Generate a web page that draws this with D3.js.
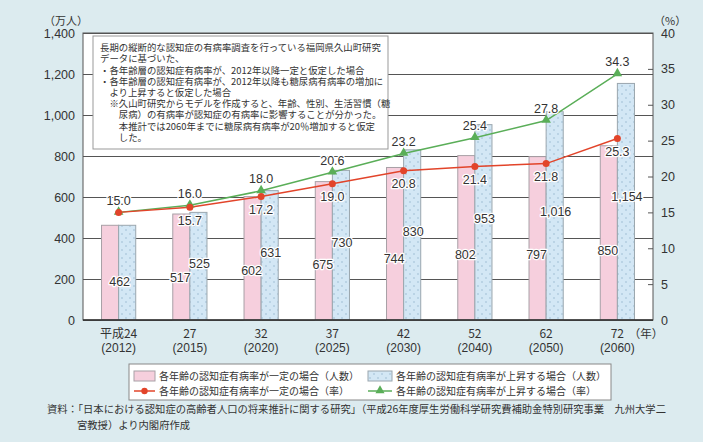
<!DOCTYPE html>
<html>
<head>
<meta charset="utf-8">
<script src="https://cdn.jsdelivr.net/npm/d3@7"></script>
<style>
  body { margin: 0; background: #dcebef; }
  svg { display: block; }
  text { font-family: "Liberation Sans", Arial, sans-serif; fill: #333; }
  .jp { font-family: "Noto Sans CJK JP", sans-serif; }
</style>
</head>
<body>
<script>
// data
var years = ["2012", "2015", "2020", "2025", "2030", "2040", "2050", "2060"];
var eraLabels = ["平成24", "27", "32", "37", "42", "52", "62", "72"];
var yearLabels = ["(2012)", "(2015)", "(2020)", "(2025)", "(2030)", "(2040)", "(2050)", "(2060)"];
var constantPeople = [462, 517, 602, 675, 744, 802, 797, 850];
var risingPeople = [462, 525, 631, 730, 830, 953, 1016, 1154];
var constantRate = [15.0, 15.7, 17.2, 19.0, 20.8, 21.4, 21.8, 25.3];
var risingRate = [15.0, 16.0, 18.0, 20.6, 23.2, 25.4, 27.8, 34.3];
var peopleTicks = [0, 200, 400, 600, 800, 1000, 1200, 1400];
var rateTicks = [0, 5, 10, 15, 20, 25, 30, 35, 40];

var legendItems = [
  "各年齢の認知症有病率が一定の場合（人数）",
  "各年齢の認知症有病率が上昇する場合（人数）",
  "各年齢の認知症有病率が一定の場合（率）",
  "各年齢の認知症有病率が上昇する場合（率）"
];
var noteLines = [
  "長期の縦断的な認知症の有病率調査を行っている福岡県久山町研究",
  "データに基づいた、",
  "・各年齢層の認知症有病率が、2012年以降一定と仮定した場合",
  "・各年齢層の認知症有病率が、2012年以降も糖尿病有病率の増加に",
  "　より上昇すると仮定した場合",
  "　※久山町研究からモデルを作成すると、年齢、性別、生活習慣（糖",
  "　　尿病）の有病率が認知症の有病率に影響することが分かった。",
  "　　本推計では2060年までに糖尿病有病率が20％増加すると仮定",
  "　　した。"
];
var sourceLines = [
  "資料：「日本における認知症の高齢者人口の将来推計に関する研究」（平成26年度厚生労働科学研究費補助金特別研究事業　九州大学二",
  "宮教授）より内閣府作成"
];

var W = 703, H = 442;
var pL = 83, pR = 653, pT = 33, pB = 320;

var pink = "#f6cfdd", blue = "#d3e7f5", red = "#e2442a", green = "#5aae58";

var svg = d3.select("body").append("svg").attr("width", W).attr("height", H);

var defs = svg.append("defs");
var pat = defs.append("pattern").attr("id", "dots").attr("patternUnits", "userSpaceOnUse")
  .attr("width", 8).attr("height", 8);
pat.append("rect").attr("width", 8).attr("height", 8).attr("fill", blue);
pat.append("circle").attr("cx", 2).attr("cy", 2).attr("r", 0.7).attr("fill", "#8fb1c9");
pat.append("circle").attr("cx", 6).attr("cy", 6).attr("r", 0.7).attr("fill", "#8fb1c9");

var x = d3.scaleBand().domain(years).range([pL, pR]);
var yL = d3.scaleLinear().domain([0, 1400]).range([pB, pT]);
var yR = d3.scaleLinear().domain([0, 40]).range([pB, pT]);
var bw = x.bandwidth() * 0.24;
function cx(i) { return x(years[i]) + x.bandwidth() / 2; }

svg.append("rect").attr("x", pL).attr("y", pT).attr("width", pR - pL).attr("height", pB - pT)
  .attr("fill", "#fff");

// left axis with grid
var gL = svg.append("g").attr("transform", "translate(" + pL + ",0)")
  .call(d3.axisLeft(yL).tickValues(peopleTicks).tickSize(-(pR - pL)).tickPadding(8).tickFormat(d3.format(",")));
gL.select(".domain").remove();
gL.selectAll("line").attr("stroke", "#555");
gL.selectAll("text").attr("font-size", 12.5).attr("fill", "#333");

// right axis
var gR = svg.append("g").attr("transform", "translate(" + pR + ",0)")
  .call(d3.axisRight(yR).tickValues(rateTicks).tickSize(-5).tickPadding(8));
gR.select(".domain").remove();
gR.selectAll("line").attr("stroke", "#555");
gR.selectAll("text").attr("font-size", 12.5).attr("fill", "#333");

svg.append("text").attr("class", "jp").attr("x", 44).attr("y", 21).attr("dy", "0.35em")
  .attr("font-size", 11).text("（万人）");
svg.append("text").attr("class", "jp").attr("x", 654).attr("y", 21).attr("dy", "0.35em")
  .attr("font-size", 11).text("（%）");

// bars
var idx = d3.range(years.length);
svg.selectAll(".pbar").data(idx).enter().append("rect")
  .attr("x", function (i) { return cx(i) - bw; })
  .attr("y", function (i) { return yL(constantPeople[i]); })
  .attr("width", bw)
  .attr("height", function (i) { return pB - yL(constantPeople[i]); })
  .attr("fill", pink).attr("stroke", "#a8a0a6").attr("stroke-width", 1);
svg.selectAll(".bbar").data(idx).enter().append("rect")
  .attr("x", function (i) { return cx(i); })
  .attr("y", function (i) { return yL(risingPeople[i]); })
  .attr("width", bw)
  .attr("height", function (i) { return pB - yL(risingPeople[i]); })
  .attr("fill", "url(#dots)").attr("stroke", "#9aa6ae").attr("stroke-width", 1);

// lines
var lineC = d3.line().x(function (d, i) { return cx(i); }).y(function (d) { return yR(d); });
svg.append("path").attr("d", lineC(risingRate)).attr("fill", "none").attr("stroke", green).attr("stroke-width", 1.5);
svg.append("path").attr("d", lineC(constantRate)).attr("fill", "none").attr("stroke", red).attr("stroke-width", 1.5);
svg.selectAll(".tri").data(idx).enter().append("path")
  .attr("d", d3.symbol().type(d3.symbolTriangle).size(40))
  .attr("transform", function (i) { return "translate(" + cx(i) + "," + (yR(risingRate[i]) - 0.5) + ")"; })
  .attr("fill", green);
svg.selectAll(".dot").data(idx).enter().append("circle")
  .attr("cx", function (i) { return cx(i); })
  .attr("cy", function (i) { return yR(constantRate[i]); })
  .attr("r", 3.5).attr("fill", red);

// value labels
function label(xp, yp, t) {
  svg.append("text").attr("x", xp).attr("y", yp).attr("dy", "0.35em").attr("text-anchor", "middle")
    .attr("font-size", 12.5).attr("stroke", "#fff").attr("stroke-width", 2.5).attr("stroke-linejoin", "round")
    .attr("paint-order", "stroke").text(t);
}
var fmtN = d3.format(","), fmtR = d3.format(".1f");
idx.forEach(function (i) {
  if (constantPeople[i] === risingPeople[i]) {
    label(cx(i) + 1, yL(constantPeople[i] * 0.4), fmtN(constantPeople[i]));
  } else {
    label(cx(i) - bw / 2 - 1, yL(constantPeople[i] * 0.4), fmtN(constantPeople[i]));
    label(cx(i) + bw / 2 + 1, yL(risingPeople[i] * 0.52), fmtN(risingPeople[i]));
  }
  label(cx(i), yR(risingRate[i]) - 12, fmtR(risingRate[i]));
  if (constantRate[i] !== risingRate[i]) label(cx(i), yR(constantRate[i]) + 13, fmtR(constantRate[i]));
});

// annotation box
var note = svg.append("g");
note.append("rect").attr("x", 93).attr("y", 36).attr("width", 295).attr("height", 113)
  .attr("fill", "#fff").attr("stroke", "#999").attr("stroke-width", 1);
note.selectAll("text").data(noteLines).enter().append("text").attr("class", "jp")
  .attr("x", 100).attr("y", function (d, i) { return 48 + i * 11.2; }).attr("dy", "0.35em")
  .attr("font-size", 9.4).attr("fill", "#222").text(function (d) { return d; });

// plot frame
svg.append("rect").attr("x", pL).attr("y", pT).attr("width", pR - pL).attr("height", pB - pT)
  .attr("fill", "none").attr("stroke", "#555").attr("stroke-width", 1);
svg.append("line").attr("x1", pL).attr("x2", pR).attr("y1", pB).attr("y2", pB)
  .attr("stroke", "#333").attr("stroke-width", 1.6);

// x labels
idx.forEach(function (i) {
  svg.append("text").attr("class", "jp").attr("x", cx(i)).attr("y", 334).attr("dy", "0.35em")
    .attr("text-anchor", "middle").attr("font-size", 12).text(eraLabels[i]);
  svg.append("text").attr("x", cx(i)).attr("y", 348).attr("dy", "0.35em")
    .attr("text-anchor", "middle").attr("font-size", 12).text(yearLabels[i]);
});
svg.append("text").attr("class", "jp").attr("x", 646).attr("y", 334).attr("dy", "0.35em")
  .attr("text-anchor", "middle").attr("font-size", 11.5).text("（年）");

// legend
var lg = svg.append("g");
lg.append("rect").attr("x", 129).attr("y", 364).attr("width", 482).attr("height", 36)
  .attr("fill", "#fff").attr("stroke", "#888");
var legX = [134, 368], legY = [376, 391];
lg.append("rect").attr("x", legX[0]).attr("y", 371).attr("width", 21).attr("height", 10)
  .attr("fill", pink).attr("stroke", "#a8a0a6");
lg.append("rect").attr("x", legX[1]).attr("y", 371).attr("width", 24).attr("height", 10)
  .attr("fill", "url(#dots)").attr("stroke", "#9aa6ae");
lg.append("line").attr("x1", legX[0]).attr("x2", legX[0] + 21).attr("y1", legY[1]).attr("y2", legY[1])
  .attr("stroke", red).attr("stroke-width", 1.5);
lg.append("circle").attr("cx", legX[0] + 10.5).attr("cy", legY[1]).attr("r", 3.2).attr("fill", red);
lg.append("line").attr("x1", legX[1]).attr("x2", legX[1] + 24).attr("y1", legY[1]).attr("y2", legY[1])
  .attr("stroke", green).attr("stroke-width", 1.5);
lg.append("path").attr("d", d3.symbol().type(d3.symbolTriangle).size(36))
  .attr("transform", "translate(" + (legX[1] + 12) + "," + (legY[1] - 0.5) + ")").attr("fill", green);
legendItems.forEach(function (t, i) {
  lg.append("text").attr("class", "jp")
    .attr("x", i % 2 === 0 ? 159 : 396).attr("y", legY[Math.floor(i / 2)]).attr("dy", "0.35em")
    .attr("font-size", 10).attr("fill", "#222").text(t);
});

// source
svg.append("text").attr("class", "jp").attr("x", 47).attr("y", 409).attr("dy", "0.35em")
  .attr("font-size", 10.3).attr("fill", "#222").text(sourceLines[0]);
svg.append("text").attr("class", "jp").attr("x", 77).attr("y", 425).attr("dy", "0.35em")
  .attr("font-size", 10.3).attr("fill", "#222").text(sourceLines[1]);
</script>
</body>
</html>
